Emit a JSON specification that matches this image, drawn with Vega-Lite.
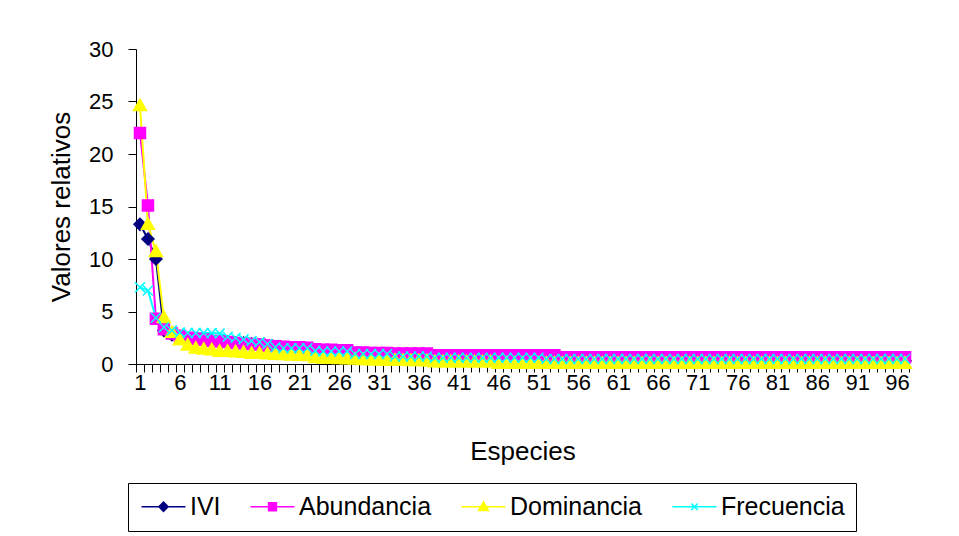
{
"$schema": "https://vega.github.io/schema/vega-lite/v6.json",
"width": 773,
"height": 315,
"autosize": {"type": "none"},
"padding": {"left": 136, "top": 49, "right": 50, "bottom": 172},
"background": "white",
"config": {"view": {"stroke": null}, "font": "Liberation Sans", "axis": {"labelColor": "black", "titleColor": "black", "titleFontWeight": "normal", "domainColor": "black", "tickColor": "black", "grid": false, "labelFlush": false, "labelOverlap": false}},
"data": {"values": [
{"s":1,"k":"IVI","v":13.3},{"s":2,"k":"IVI","v":11.9},{"s":3,"k":"IVI","v":10},{"s":4,"k":"IVI","v":3.2},{"s":5,"k":"IVI","v":2.8},{"s":6,"k":"IVI","v":2.5},{"s":7,"k":"IVI","v":2.3},{"s":8,"k":"IVI","v":2.2},{"s":9,"k":"IVI","v":2.2},{"s":10,"k":"IVI","v":2.2},
{"s":11,"k":"IVI","v":2.1},{"s":12,"k":"IVI","v":2.1},{"s":13,"k":"IVI","v":2},{"s":14,"k":"IVI","v":2},{"s":15,"k":"IVI","v":1.9},{"s":16,"k":"IVI","v":1.8},{"s":17,"k":"IVI","v":1.7},{"s":18,"k":"IVI","v":1.6},{"s":19,"k":"IVI","v":1.5},{"s":20,"k":"IVI","v":1.45},
{"s":21,"k":"IVI","v":1.4},{"s":22,"k":"IVI","v":1.4},{"s":23,"k":"IVI","v":1.2},{"s":24,"k":"IVI","v":1.15},{"s":25,"k":"IVI","v":1.1},{"s":26,"k":"IVI","v":1.05},{"s":27,"k":"IVI","v":1.05},{"s":28,"k":"IVI","v":0.9},{"s":29,"k":"IVI","v":0.85},{"s":30,"k":"IVI","v":0.82},
{"s":31,"k":"IVI","v":0.8},{"s":32,"k":"IVI","v":0.8},{"s":33,"k":"IVI","v":0.8},{"s":34,"k":"IVI","v":0.78},{"s":35,"k":"IVI","v":0.75},{"s":36,"k":"IVI","v":0.72},{"s":37,"k":"IVI","v":0.7},{"s":38,"k":"IVI","v":0.68},{"s":39,"k":"IVI","v":0.67},{"s":40,"k":"IVI","v":0.66},
{"s":41,"k":"IVI","v":0.65},{"s":42,"k":"IVI","v":0.64},{"s":43,"k":"IVI","v":0.63},{"s":44,"k":"IVI","v":0.62},{"s":45,"k":"IVI","v":0.62},{"s":46,"k":"IVI","v":0.61},{"s":47,"k":"IVI","v":0.61},{"s":48,"k":"IVI","v":0.6},{"s":49,"k":"IVI","v":0.6},{"s":50,"k":"IVI","v":0.6},
{"s":51,"k":"IVI","v":0.59},{"s":52,"k":"IVI","v":0.59},{"s":53,"k":"IVI","v":0.58},{"s":54,"k":"IVI","v":0.58},{"s":55,"k":"IVI","v":0.57},{"s":56,"k":"IVI","v":0.45},{"s":57,"k":"IVI","v":0.45},{"s":58,"k":"IVI","v":0.45},{"s":59,"k":"IVI","v":0.45},{"s":60,"k":"IVI","v":0.45},
{"s":61,"k":"IVI","v":0.45},{"s":62,"k":"IVI","v":0.45},{"s":63,"k":"IVI","v":0.45},{"s":64,"k":"IVI","v":0.45},{"s":65,"k":"IVI","v":0.45},{"s":66,"k":"IVI","v":0.45},{"s":67,"k":"IVI","v":0.45},{"s":68,"k":"IVI","v":0.45},{"s":69,"k":"IVI","v":0.45},{"s":70,"k":"IVI","v":0.45},
{"s":71,"k":"IVI","v":0.45},{"s":72,"k":"IVI","v":0.45},{"s":73,"k":"IVI","v":0.45},{"s":74,"k":"IVI","v":0.45},{"s":75,"k":"IVI","v":0.45},{"s":76,"k":"IVI","v":0.42},{"s":77,"k":"IVI","v":0.42},{"s":78,"k":"IVI","v":0.42},{"s":79,"k":"IVI","v":0.42},{"s":80,"k":"IVI","v":0.42},
{"s":81,"k":"IVI","v":0.42},{"s":82,"k":"IVI","v":0.42},{"s":83,"k":"IVI","v":0.42},{"s":84,"k":"IVI","v":0.42},{"s":85,"k":"IVI","v":0.42},{"s":86,"k":"IVI","v":0.42},{"s":87,"k":"IVI","v":0.42},{"s":88,"k":"IVI","v":0.42},{"s":89,"k":"IVI","v":0.42},{"s":90,"k":"IVI","v":0.42},
{"s":91,"k":"IVI","v":0.42},{"s":92,"k":"IVI","v":0.42},{"s":93,"k":"IVI","v":0.42},{"s":94,"k":"IVI","v":0.42},{"s":95,"k":"IVI","v":0.42},{"s":96,"k":"IVI","v":0.42},{"s":97,"k":"IVI","v":0.3},
{"s":1,"k":"Abundancia","v":22},{"s":2,"k":"Abundancia","v":15.1},{"s":3,"k":"Abundancia","v":4.3},{"s":4,"k":"Abundancia","v":3.3},{"s":5,"k":"Abundancia","v":2.9},{"s":6,"k":"Abundancia","v":2.7},{"s":7,"k":"Abundancia","v":2.5},{"s":8,"k":"Abundancia","v":2.4},{"s":9,"k":"Abundancia","v":2.3},{"s":10,"k":"Abundancia","v":2.2},
{"s":11,"k":"Abundancia","v":2.15},{"s":12,"k":"Abundancia","v":2.1},{"s":13,"k":"Abundancia","v":2},{"s":14,"k":"Abundancia","v":1.95},{"s":15,"k":"Abundancia","v":1.9},{"s":16,"k":"Abundancia","v":1.85},{"s":17,"k":"Abundancia","v":1.75},{"s":18,"k":"Abundancia","v":1.7},{"s":19,"k":"Abundancia","v":1.65},{"s":20,"k":"Abundancia","v":1.6},
{"s":21,"k":"Abundancia","v":1.6},{"s":22,"k":"Abundancia","v":1.55},{"s":23,"k":"Abundancia","v":1.4},{"s":24,"k":"Abundancia","v":1.35},{"s":25,"k":"Abundancia","v":1.35},{"s":26,"k":"Abundancia","v":1.3},{"s":27,"k":"Abundancia","v":1.3},{"s":28,"k":"Abundancia","v":1.1},{"s":29,"k":"Abundancia","v":1.1},{"s":30,"k":"Abundancia","v":1.05},
{"s":31,"k":"Abundancia","v":1.05},{"s":32,"k":"Abundancia","v":1.05},{"s":33,"k":"Abundancia","v":1},{"s":34,"k":"Abundancia","v":1},{"s":35,"k":"Abundancia","v":1},{"s":36,"k":"Abundancia","v":1},{"s":37,"k":"Abundancia","v":1},{"s":38,"k":"Abundancia","v":0.82},{"s":39,"k":"Abundancia","v":0.82},{"s":40,"k":"Abundancia","v":0.82},
{"s":41,"k":"Abundancia","v":0.82},{"s":42,"k":"Abundancia","v":0.82},{"s":43,"k":"Abundancia","v":0.82},{"s":44,"k":"Abundancia","v":0.82},{"s":45,"k":"Abundancia","v":0.82},{"s":46,"k":"Abundancia","v":0.82},{"s":47,"k":"Abundancia","v":0.82},{"s":48,"k":"Abundancia","v":0.82},{"s":49,"k":"Abundancia","v":0.82},{"s":50,"k":"Abundancia","v":0.82},
{"s":51,"k":"Abundancia","v":0.82},{"s":52,"k":"Abundancia","v":0.82},{"s":53,"k":"Abundancia","v":0.82},{"s":54,"k":"Abundancia","v":0.65},{"s":55,"k":"Abundancia","v":0.65},{"s":56,"k":"Abundancia","v":0.65},{"s":57,"k":"Abundancia","v":0.65},{"s":58,"k":"Abundancia","v":0.65},{"s":59,"k":"Abundancia","v":0.65},{"s":60,"k":"Abundancia","v":0.65},
{"s":61,"k":"Abundancia","v":0.65},{"s":62,"k":"Abundancia","v":0.65},{"s":63,"k":"Abundancia","v":0.65},{"s":64,"k":"Abundancia","v":0.65},{"s":65,"k":"Abundancia","v":0.65},{"s":66,"k":"Abundancia","v":0.65},{"s":67,"k":"Abundancia","v":0.65},{"s":68,"k":"Abundancia","v":0.65},{"s":69,"k":"Abundancia","v":0.65},{"s":70,"k":"Abundancia","v":0.65},
{"s":71,"k":"Abundancia","v":0.65},{"s":72,"k":"Abundancia","v":0.65},{"s":73,"k":"Abundancia","v":0.65},{"s":74,"k":"Abundancia","v":0.65},{"s":75,"k":"Abundancia","v":0.65},{"s":76,"k":"Abundancia","v":0.65},{"s":77,"k":"Abundancia","v":0.65},{"s":78,"k":"Abundancia","v":0.65},{"s":79,"k":"Abundancia","v":0.65},{"s":80,"k":"Abundancia","v":0.65},
{"s":81,"k":"Abundancia","v":0.65},{"s":82,"k":"Abundancia","v":0.65},{"s":83,"k":"Abundancia","v":0.65},{"s":84,"k":"Abundancia","v":0.65},{"s":85,"k":"Abundancia","v":0.65},{"s":86,"k":"Abundancia","v":0.65},{"s":87,"k":"Abundancia","v":0.65},{"s":88,"k":"Abundancia","v":0.65},{"s":89,"k":"Abundancia","v":0.65},{"s":90,"k":"Abundancia","v":0.65},
{"s":91,"k":"Abundancia","v":0.65},{"s":92,"k":"Abundancia","v":0.65},{"s":93,"k":"Abundancia","v":0.65},{"s":94,"k":"Abundancia","v":0.65},{"s":95,"k":"Abundancia","v":0.65},{"s":96,"k":"Abundancia","v":0.65},{"s":97,"k":"Abundancia","v":0.65},
{"s":1,"k":"Dominancia","v":24.6},{"s":2,"k":"Dominancia","v":13.3},{"s":3,"k":"Dominancia","v":10.7},{"s":4,"k":"Dominancia","v":4.4},{"s":5,"k":"Dominancia","v":3},{"s":6,"k":"Dominancia","v":2.3},{"s":7,"k":"Dominancia","v":1.8},{"s":8,"k":"Dominancia","v":1.5},{"s":9,"k":"Dominancia","v":1.4},{"s":10,"k":"Dominancia","v":1.35},
{"s":11,"k":"Dominancia","v":1.2},{"s":12,"k":"Dominancia","v":1.2},{"s":13,"k":"Dominancia","v":1.15},{"s":14,"k":"Dominancia","v":1.1},{"s":15,"k":"Dominancia","v":1},{"s":16,"k":"Dominancia","v":1},{"s":17,"k":"Dominancia","v":0.95},{"s":18,"k":"Dominancia","v":0.9},{"s":19,"k":"Dominancia","v":0.88},{"s":20,"k":"Dominancia","v":0.85},
{"s":21,"k":"Dominancia","v":0.82},{"s":22,"k":"Dominancia","v":0.8},{"s":23,"k":"Dominancia","v":0.6},{"s":24,"k":"Dominancia","v":0.55},{"s":25,"k":"Dominancia","v":0.52},{"s":26,"k":"Dominancia","v":0.5},{"s":27,"k":"Dominancia","v":0.48},{"s":28,"k":"Dominancia","v":0.45},{"s":29,"k":"Dominancia","v":0.4},{"s":30,"k":"Dominancia","v":0.38},
{"s":31,"k":"Dominancia","v":0.36},{"s":32,"k":"Dominancia","v":0.35},{"s":33,"k":"Dominancia","v":0.35},{"s":34,"k":"Dominancia","v":0.33},{"s":35,"k":"Dominancia","v":0.32},{"s":36,"k":"Dominancia","v":0.32},{"s":37,"k":"Dominancia","v":0.3},{"s":38,"k":"Dominancia","v":0.2},{"s":39,"k":"Dominancia","v":0.2},{"s":40,"k":"Dominancia","v":0.2},
{"s":41,"k":"Dominancia","v":0.2},{"s":42,"k":"Dominancia","v":0.2},{"s":43,"k":"Dominancia","v":0.2},{"s":44,"k":"Dominancia","v":0.2},{"s":45,"k":"Dominancia","v":0.2},{"s":46,"k":"Dominancia","v":0.05},{"s":47,"k":"Dominancia","v":0.05},{"s":48,"k":"Dominancia","v":0.05},{"s":49,"k":"Dominancia","v":0.05},{"s":50,"k":"Dominancia","v":0.05},
{"s":51,"k":"Dominancia","v":0.05},{"s":52,"k":"Dominancia","v":0.05},{"s":53,"k":"Dominancia","v":0.05},{"s":54,"k":"Dominancia","v":0.05},{"s":55,"k":"Dominancia","v":0.05},{"s":56,"k":"Dominancia","v":0.05},{"s":57,"k":"Dominancia","v":0.05},{"s":58,"k":"Dominancia","v":0.05},{"s":59,"k":"Dominancia","v":0.05},{"s":60,"k":"Dominancia","v":0.05},
{"s":61,"k":"Dominancia","v":0.05},{"s":62,"k":"Dominancia","v":0.05},{"s":63,"k":"Dominancia","v":0.05},{"s":64,"k":"Dominancia","v":0.05},{"s":65,"k":"Dominancia","v":0.05},{"s":66,"k":"Dominancia","v":0.05},{"s":67,"k":"Dominancia","v":0.05},{"s":68,"k":"Dominancia","v":0.05},{"s":69,"k":"Dominancia","v":0.05},{"s":70,"k":"Dominancia","v":0.05},
{"s":71,"k":"Dominancia","v":0.05},{"s":72,"k":"Dominancia","v":0.05},{"s":73,"k":"Dominancia","v":0.05},{"s":74,"k":"Dominancia","v":0.05},{"s":75,"k":"Dominancia","v":0.05},{"s":76,"k":"Dominancia","v":0.05},{"s":77,"k":"Dominancia","v":0.05},{"s":78,"k":"Dominancia","v":0.05},{"s":79,"k":"Dominancia","v":0.05},{"s":80,"k":"Dominancia","v":0.05},
{"s":81,"k":"Dominancia","v":0.05},{"s":82,"k":"Dominancia","v":0.05},{"s":83,"k":"Dominancia","v":0.05},{"s":84,"k":"Dominancia","v":0.05},{"s":85,"k":"Dominancia","v":0.05},{"s":86,"k":"Dominancia","v":0.05},{"s":87,"k":"Dominancia","v":0.05},{"s":88,"k":"Dominancia","v":0.05},{"s":89,"k":"Dominancia","v":0.05},{"s":90,"k":"Dominancia","v":0.05},
{"s":91,"k":"Dominancia","v":0.05},{"s":92,"k":"Dominancia","v":0.05},{"s":93,"k":"Dominancia","v":0.05},{"s":94,"k":"Dominancia","v":0.05},{"s":95,"k":"Dominancia","v":0.05},{"s":96,"k":"Dominancia","v":0.05},{"s":97,"k":"Dominancia","v":0.05},
{"s":1,"k":"Frecuencia","v":7.3},{"s":2,"k":"Frecuencia","v":7},{"s":3,"k":"Frecuencia","v":4.4},{"s":4,"k":"Frecuencia","v":3.5},{"s":5,"k":"Frecuencia","v":3.2},{"s":6,"k":"Frecuencia","v":3},{"s":7,"k":"Frecuencia","v":2.95},{"s":8,"k":"Frecuencia","v":2.95},{"s":9,"k":"Frecuencia","v":2.95},{"s":10,"k":"Frecuencia","v":2.95},
{"s":11,"k":"Frecuencia","v":2.9},{"s":12,"k":"Frecuencia","v":2.6},{"s":13,"k":"Frecuencia","v":2.5},{"s":14,"k":"Frecuencia","v":2.35},{"s":15,"k":"Frecuencia","v":2.2},{"s":16,"k":"Frecuencia","v":2.1},{"s":17,"k":"Frecuencia","v":1.9},{"s":18,"k":"Frecuencia","v":1.6},{"s":19,"k":"Frecuencia","v":1.5},{"s":20,"k":"Frecuencia","v":1.5},
{"s":21,"k":"Frecuencia","v":1.5},{"s":22,"k":"Frecuencia","v":1.5},{"s":23,"k":"Frecuencia","v":1.25},{"s":24,"k":"Frecuencia","v":1.2},{"s":25,"k":"Frecuencia","v":1.2},{"s":26,"k":"Frecuencia","v":1.2},{"s":27,"k":"Frecuencia","v":1.2},{"s":28,"k":"Frecuencia","v":0.95},{"s":29,"k":"Frecuencia","v":0.95},{"s":30,"k":"Frecuencia","v":0.95},
{"s":31,"k":"Frecuencia","v":0.95},{"s":32,"k":"Frecuencia","v":0.95},{"s":33,"k":"Frecuencia","v":0.72},{"s":34,"k":"Frecuencia","v":0.72},{"s":35,"k":"Frecuencia","v":0.72},{"s":36,"k":"Frecuencia","v":0.72},{"s":37,"k":"Frecuencia","v":0.72},{"s":38,"k":"Frecuencia","v":0.6},{"s":39,"k":"Frecuencia","v":0.6},{"s":40,"k":"Frecuencia","v":0.6},
{"s":41,"k":"Frecuencia","v":0.6},{"s":42,"k":"Frecuencia","v":0.6},{"s":43,"k":"Frecuencia","v":0.6},{"s":44,"k":"Frecuencia","v":0.6},{"s":45,"k":"Frecuencia","v":0.6},{"s":46,"k":"Frecuencia","v":0.6},{"s":47,"k":"Frecuencia","v":0.6},{"s":48,"k":"Frecuencia","v":0.6},{"s":49,"k":"Frecuencia","v":0.6},{"s":50,"k":"Frecuencia","v":0.6},
{"s":51,"k":"Frecuencia","v":0.6},{"s":52,"k":"Frecuencia","v":0.48},{"s":53,"k":"Frecuencia","v":0.48},{"s":54,"k":"Frecuencia","v":0.48},{"s":55,"k":"Frecuencia","v":0.48},{"s":56,"k":"Frecuencia","v":0.48},{"s":57,"k":"Frecuencia","v":0.48},{"s":58,"k":"Frecuencia","v":0.48},{"s":59,"k":"Frecuencia","v":0.48},{"s":60,"k":"Frecuencia","v":0.48},
{"s":61,"k":"Frecuencia","v":0.48},{"s":62,"k":"Frecuencia","v":0.48},{"s":63,"k":"Frecuencia","v":0.48},{"s":64,"k":"Frecuencia","v":0.48},{"s":65,"k":"Frecuencia","v":0.48},{"s":66,"k":"Frecuencia","v":0.48},{"s":67,"k":"Frecuencia","v":0.48},{"s":68,"k":"Frecuencia","v":0.48},{"s":69,"k":"Frecuencia","v":0.48},{"s":70,"k":"Frecuencia","v":0.48},
{"s":71,"k":"Frecuencia","v":0.48},{"s":72,"k":"Frecuencia","v":0.48},{"s":73,"k":"Frecuencia","v":0.48},{"s":74,"k":"Frecuencia","v":0.48},{"s":75,"k":"Frecuencia","v":0.48},{"s":76,"k":"Frecuencia","v":0.48},{"s":77,"k":"Frecuencia","v":0.48},{"s":78,"k":"Frecuencia","v":0.48},{"s":79,"k":"Frecuencia","v":0.48},{"s":80,"k":"Frecuencia","v":0.48},
{"s":81,"k":"Frecuencia","v":0.48},{"s":82,"k":"Frecuencia","v":0.48},{"s":83,"k":"Frecuencia","v":0.48},{"s":84,"k":"Frecuencia","v":0.48},{"s":85,"k":"Frecuencia","v":0.48},{"s":86,"k":"Frecuencia","v":0.48},{"s":87,"k":"Frecuencia","v":0.48},{"s":88,"k":"Frecuencia","v":0.48},{"s":89,"k":"Frecuencia","v":0.48},{"s":90,"k":"Frecuencia","v":0.48},
{"s":91,"k":"Frecuencia","v":0.48},{"s":92,"k":"Frecuencia","v":0.48},{"s":93,"k":"Frecuencia","v":0.48},{"s":94,"k":"Frecuencia","v":0.48},{"s":95,"k":"Frecuencia","v":0.48},{"s":96,"k":"Frecuencia","v":0.48},{"s":97,"k":"Frecuencia","v":0.48}
]},
"layer": [
{
"mark": {"type": "line", "strokeWidth": 2},
"encoding": {
"x": {"field": "s", "type": "quantitative", "scale": {"domain": [0.5, 97.5], "nice": false, "zero": false},
"axis": {"orient": "bottom", "values": [0.5,1.5,2.5,3.5,4.5,5.5,6.5,7.5,8.5,9.5,10.5,11.5,12.5,13.5,14.5,15.5,16.5,17.5,18.5,19.5,20.5,21.5,22.5,23.5,24.5,25.5,26.5,27.5,28.5,29.5,30.5,31.5,32.5,33.5,34.5,35.5,36.5,37.5,38.5,39.5,40.5,41.5,42.5,43.5,44.5,45.5,46.5,47.5,48.5,49.5,50.5,51.5,52.5,53.5,54.5,55.5,56.5,57.5,58.5,59.5,60.5,61.5,62.5,63.5,64.5,65.5,66.5,67.5,68.5,69.5,70.5,71.5,72.5,73.5,74.5,75.5,76.5,77.5,78.5,79.5,80.5,81.5,82.5,83.5,84.5,85.5,86.5,87.5,88.5,89.5,90.5,91.5,92.5,93.5,94.5,95.5,96.5,97.5], "labels": false, "tickSize": 8, "title": null}},
"y": {"field": "v", "type": "quantitative", "scale": {"domain": [0, 30], "nice": false},
"axis": {"values": [0,5,10,15,20,25,30], "tickSize": 8, "labelFontSize": 22, "labelPadding": 15, "title": "Valores relativos", "titleFontSize": 26, "titlePadding": 14}},
"color": {"field": "k", "type": "nominal", "scale": {"domain": ["IVI","Abundancia","Dominancia","Frecuencia"], "range": ["#000080","#FF00FF","#FFFF00","#00FFFF"]}, "legend": null}
}
},
{
"mark": {"type": "point", "size": 144, "opacity": 1, "strokeWidth": 1.5},
"encoding": {
"x": {"field": "s", "type": "quantitative",
"axis": {"orient": "bottom", "values": [1,6,11,16,21,26,31,36,41,46,51,56,61,66,71,76,81,86,91,96], "tickSize": 8, "tickOpacity": 0, "domain": false, "labelFontSize": 22, "labelPadding": 0, "title": "Especies", "titleFontSize": 26, "titlePadding": 45}},
"y": {"field": "v", "type": "quantitative",
"axis": {"values": [0,5,10,15,20,25,30], "tickSize": 8, "labelFontSize": 22, "labelPadding": 15, "title": "Valores relativos", "titleFontSize": 26, "titlePadding": 14}},
"shape": {"field": "k", "type": "nominal", "scale": {"domain": ["IVI","Abundancia","Dominancia","Frecuencia"], "range": ["M0,-1L1,0L0,1L-1,0Z","M-0.92,-0.92H0.92V0.92H-0.92Z","M0,-1.1L1.08,0.8L-1.08,0.8Z","M-0.83,-0.83L0.83,0.83M-0.83,0.83L0.83,-0.83"]}, "legend": null},
"fill": {"field": "k", "type": "nominal", "scale": {"domain": ["IVI","Abundancia","Dominancia","Frecuencia"], "range": ["#000080","#FF00FF","#FFFF00","#00FFFF"]}, "legend": null},
"stroke": {"field": "k", "type": "nominal", "scale": {"domain": ["IVI","Abundancia","Dominancia","Frecuencia"], "range": ["#000080","#FF00FF","#FFFF00","#00FFFF"]}, "legend": null}
}
},
{
"transform": [{"filter": "false"}],
"mark": {"type": "point", "opacity": 1, "strokeWidth": 1.5},
"encoding": {
"x": {"field": "s", "type": "quantitative", "axis": null},
"y": {"field": "v", "type": "quantitative",
"axis": {"values": [0,5,10,15,20,25,30], "tickSize": 8, "labelFontSize": 22, "labelPadding": 15, "title": "Valores relativos", "titleFontSize": 26, "titlePadding": 14}},
"shape": {"field": "k", "type": "nominal", "scale": {"domain": ["IVI","Abundancia","Dominancia","Frecuencia"], "range": ["M-2,0H2M0,-0.42L0.42,0L0,0.42L-0.42,0Z","M-2,0H2M-0.36,-0.36H0.36V0.36H-0.36Z","M-2,0H2M0,-0.45L0.45,0.35L-0.45,0.35Z","M-2,0H2M-0.3,-0.3L0.3,0.3M-0.3,0.3L0.3,-0.3"]},
"legend": {"title": null, "orient": "none", "legendX": -8, "legendY": 434, "direction": "horizontal", "columns": 4, "symbolSize": 484, "labelFontSize": 25, "labelColor": "black", "strokeColor": "black", "padding": 11, "columnPadding": 26, "labelOffset": 14, "symbolOffset": 12, "symbolStrokeWidth": 1.5}},
"fill": {"field": "k", "type": "nominal", "scale": {"domain": ["IVI","Abundancia","Dominancia","Frecuencia"], "range": ["#000080","#FF00FF","#FFFF00","#00FFFF"]},
"legend": {"title": null, "orient": "none", "legendX": -8, "legendY": 434, "direction": "horizontal", "columns": 4, "symbolSize": 484, "labelFontSize": 25, "labelColor": "black", "strokeColor": "black", "padding": 11, "columnPadding": 26, "labelOffset": 14, "symbolOffset": 12, "symbolStrokeWidth": 1.5}},
"stroke": {"field": "k", "type": "nominal", "scale": {"domain": ["IVI","Abundancia","Dominancia","Frecuencia"], "range": ["#000080","#FF00FF","#FFFF00","#00FFFF"]},
"legend": {"title": null, "orient": "none", "legendX": -8, "legendY": 434, "direction": "horizontal", "columns": 4, "symbolSize": 484, "labelFontSize": 25, "labelColor": "black", "strokeColor": "black", "padding": 11, "columnPadding": 26, "labelOffset": 14, "symbolOffset": 12, "symbolStrokeWidth": 1.5}}
}
}
],
"resolve": {"axis": {"x": "independent"}, "scale": {"shape": "independent", "fill": "independent", "stroke": "independent"}}
}
